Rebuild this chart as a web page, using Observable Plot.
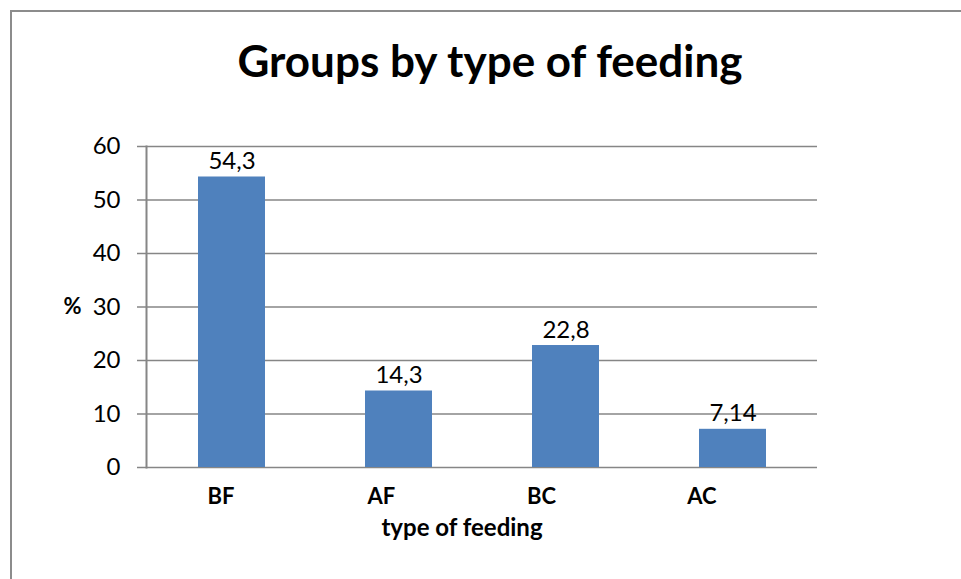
<!DOCTYPE html>
<html>
<head>
<meta charset="utf-8">
<script src="https://cdn.jsdelivr.net/npm/d3@7"></script>
<script src="https://cdn.jsdelivr.net/npm/@observablehq/plot@0.6"></script>
<style>
  html, body { margin: 0; padding: 0; background: #fff; overflow: hidden; }
  #wrap { position: relative; width: 961px; height: 579px; font-family: Lato, "Open Sans", sans-serif; }
  #border { position: absolute; left: 10px; top: 10px; width: 1000px; height: 700px; border: 2px solid #8c8c8c; box-sizing: border-box; }
  #title { position: absolute; left: 0; width: 980px; top: 34px; text-align: center; font-weight: bold; font-size: 44px; color: #000; line-height: 52px; }
  #chart { position: absolute; left: 0; top: 0; }
</style>
</head>
<body>
<div id="wrap">
  <div id="border"></div>
  <div id="title">Groups by type of feeding</div>
  <div id="chart"></div>
</div>
<script>
// Feeding groups and their share (%)
const categories = ["BF", "AF", "BC", "AC"];
const percents = [54.3, 14.3, 22.8, 7.14];
const valueLabels = ["54,3", "14,3", "22,8", "7,14"];
const yTicks = [0, 10, 20, 30, 40, 50, 60];

const rows = categories.map((c, i) => ({group: c, pct: percents[i], label: valueLabels[i]}));

const grey = "#868686";
const barColor = "#4F81BD";

// category labels drift slightly left, as in the original layout
const categoryLabels = categories.map((c, i) =>
  Plot.text([c], {
    x: d => d,
    frameAnchor: "bottom",
    lineAnchor: "middle",
    dy: 29,
    dx: -11 - 6.7 * i,
    fontWeight: "bold",
    fontSize: 22,
    fill: "#000"
  })
);

const chart = Plot.plot({
  width: 961,
  height: 579,
  marginLeft: 146,
  marginRight: 144,
  marginTop: 146,
  marginBottom: 112,
  style: {fontFamily: "Lato, 'Open Sans', sans-serif", background: "transparent", overflow: "visible"},
  x: {domain: categories, paddingInner: 0.6, paddingOuter: 0.3, axis: null},
  y: {domain: [0, 60], axis: null},
  marks: [
    Plot.ruleY(yTicks, {stroke: grey, strokeWidth: 1.5}),
    Plot.axisY(yTicks, {
      tickSize: 9,
      tickPadding: 17,
      fontSize: 24,
      stroke: grey,
      strokeWidth: 1.5,
      fill: "#000",
      label: null
    }),
    Plot.frame({anchor: "left", stroke: grey, strokeWidth: 2}),
    Plot.barY(rows, {x: "group", y: "pct", fill: barColor}),
    Plot.text(rows, {
      x: "group",
      y: "pct",
      text: "label",
      lineAnchor: "bottom",
      dy: -8,
      fontSize: 24,
      fill: "#000"
    }),
    ...categoryLabels,
    Plot.text(["type of feeding"], {
      frameAnchor: "bottom",
      lineAnchor: "middle",
      textAnchor: "middle",
      dx: -20,
      dy: 61,
      fontWeight: "bold",
      fontSize: 24,
      fill: "#000"
    }),
    Plot.text(["%"], {
      y: 30,
      frameAnchor: "left",
      textAnchor: "middle",
      lineAnchor: "middle",
      dx: -74,
      fontWeight: "bold",
      fontSize: 22,
      fill: "#000"
    })
  ]
});

document.getElementById("chart").appendChild(chart);
</script>
</body>
</html>
